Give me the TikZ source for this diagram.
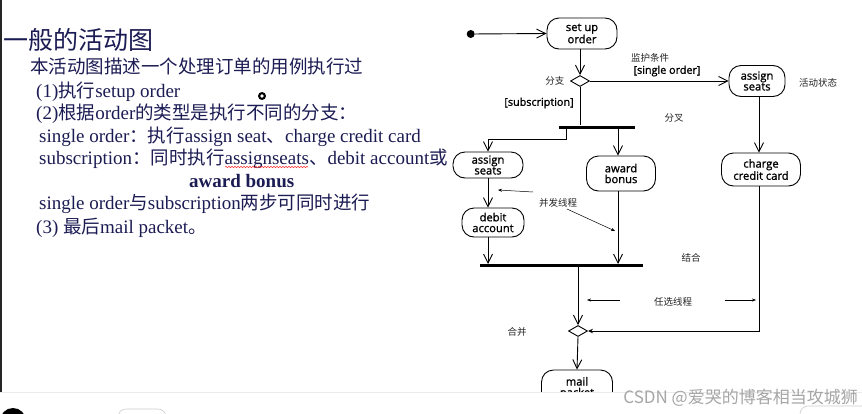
\documentclass[tikz,border=0pt]{standalone}
\usepackage{fontspec}
\setmainfont{Liberation Serif}
\newfontfamily\cjk{Noto Sans CJK SC}
\newfontfamily\diagfont[FakeBold=1.2]{Open Sans}
\usetikzlibrary{arrows.meta,shapes.geometric,decorations.pathmorphing}
\definecolor{navy}{RGB}{28,28,84}
\begin{document}
\begin{tikzpicture}[x=1pt,y=-1pt,
  act/.style={draw,line width=0.9pt,rounded corners=12pt,align=center,inner sep=0pt,
    font=\diagfont\fontsize{11.2}{10.8}\selectfont},
  barnode/.style={fill=black,inner sep=0pt,minimum height=3pt},
  dec/.style={draw,line width=0.9pt,diamond,aspect=1.8,minimum width=19pt,minimum height=11pt,inner sep=0pt},
  flow/.style={line width=0.9pt,-{Straight Barb[length=9pt,width=9pt]}},
  plain/.style={line width=0.9pt},
  lbl/.style={font=\cjk\fontsize{9.5}{9.5}\selectfont,text=black!85},
  note/.style={line width=0.5pt,-{Stealth[length=4pt,width=3pt]}},
  body/.style={anchor=base west,inner sep=0pt,text=navy,font=\fontsize{19}{22}\selectfont},
]
\useasboundingbox (0,0) rectangle (862,413);
\fill[white] (0,0) rectangle (862,413);
% left border
\draw[line width=1.2pt,black!85] (1,0) -- (1,392);

% ---------- left text ----------
\node[body,font=\cjk\fontsize{25}{25}\selectfont] (title) at (3,49) {一般的活动图};
\node[body] (l1) at (30,73) {\cjk\fontsize{18.5}{22}\selectfont 本活动图描述一个处理订单的用例执行过};
\node[body] (l2) at (36,97) {(1){\cjk\fontsize{18.5}{22}\selectfont 执行}setup order};
\node[body] (l3) at (36,119) {(2){\cjk\fontsize{18.5}{22}\selectfont 根据}order{\cjk\fontsize{18.5}{22}\selectfont 的类型是执行不同的分支：}};
\node[body] (l4) at (39,142) {single order{\cjk\fontsize{18.5}{22}\selectfont ：执行}assign seat{\cjk\fontsize{18.5}{22}\selectfont 、}charge credit card};
\node[body] (l5) at (39,164) {subscription{\cjk\fontsize{18.5}{22}\selectfont ：同时执行}assignseats{\cjk\fontsize{18.5}{22}\selectfont 、}debit account{\cjk\fontsize{18.5}{22}\selectfont 或}};
\node[body] (l6) at (189,187) {\bfseries award bonus};
\node[body] (l7) at (39,209) {single order{\cjk\fontsize{18.5}{22}\selectfont 与}subscription{\cjk\fontsize{18.5}{22}\selectfont 两步可同时进行}};
\node[body] (l8) at (36,233) {(3) {\cjk\fontsize{18.5}{22}\selectfont 最后}mail packet{\cjk\fontsize{18.5}{22}\selectfont 。}};
% spell-check underline
\draw[red!80,line width=0.5pt,decorate,decoration={snake,amplitude=0.8pt,segment length=3pt}] (225,167) -- (308,167);
% cursor
\fill[black] (262,96) circle (4);
\fill[white] (262,96) circle (1.8);

% ---------- diagram ----------
\node[circle,fill=black,minimum size=8pt,inner sep=0pt] (start) at (470.7,34) {};
\node[act,minimum width=70pt,minimum height=31pt] (setup) at (582,33.5) {set up\\order};
\node[dec] (d1) at (580,81) {};
\node[act,minimum width=56pt,minimum height=31pt] (as1) at (757,81) {assign\\seats};
\node[barnode,minimum width=76pt] (fork) at (597,127) {};
\node[act,minimum width=70pt,minimum height=26pt] (as2) at (488,165) {assign\\seats};
\node[act,minimum width=69pt,minimum height=35pt] (award) at (621,173.5) {award\\bonus};
\node[act,minimum width=79pt,minimum height=33pt] (charge) at (761,169.5) {charge\\credit card};
\node[act,minimum width=62pt,minimum height=29pt] (debit) at (493,222.5) {debit\\account};
\node[barnode,minimum width=163pt] (join) at (561.5,265.7) {};
\node[dec] (d2) at (578,331) {};
\node[act,minimum width=71pt,minimum height=36pt] (mail) at (577,388) {mail\\packet};

\coordinate (f1) at (566,127);
\coordinate (f2) at (618,127);
\coordinate (rx) at (759,0);

\draw[flow] (start) -- (setup.west);
\draw[flow] (setup.south -| d1) -- (d1.north);
\draw[flow] (d1.east) -- (as1.west);
\draw[plain] (d1.south) -- (d1.south |- fork.north);
\draw[flow] (f1) -- ++(0,12) -| (as2.north);
\draw[flow] (f2) -- (f2 |- award.north);
\draw[flow] (as1.south -| rx) -- (charge.north -| rx);
\draw[flow] (as2.south) -- (as2.south |- debit.north);
\draw[flow] (debit.south -| as2) -- (join.north -| as2);
\draw[flow] (award.south -| f2) -- (join.north -| f2);
\draw[flow] (join.south -| d2) -- (d2.north);
\draw[line width=0.9pt,-{Stealth[length=5pt,width=4.5pt]}] (charge.south -| rx) |- (d2.east);
\draw[flow] (d2.south) -- (mail.north);

% labels
\node[lbl,anchor=east] (lfz) at (568,81) {分支};
\node[lbl] (ljh) at (650,58) {监护条件};
\node[font=\diagfont\fontsize{10.8}{10.5}\selectfont] (lso) at (667,71) {[single order]};
\node[lbl] (lhd) at (818,83) {活动状态};
\node[font=\diagfont\fontsize{10.8}{10.5}\selectfont] (lsub) at (539,103) {[subscription]};
\node[lbl] (lfc) at (674,118) {分叉};
\node[lbl] (lbf) at (558,203) {并发线程};
\node[lbl] (ljhe) at (691,258) {结合};
\node[lbl] (lrx) at (673,302) {任选线程};
\node[lbl] (lhb) at (517,332) {合并};

\coordinate (a1s) at (533,192);
\coordinate (a1e) at (498,190);
\coordinate (a2s) at (567,209);
\coordinate (a2e) at (615,231);
\coordinate (a3s) at (620,300);
\coordinate (a3e) at (587,300);
\coordinate (a4s) at (725,300);
\coordinate (a4e) at (756,300);
\draw[note] (a1s) -- (a1e);
\draw[note] (a2s) -- (a2e);
\draw[note] (a3s) -- (a3e);
\draw[note] (a4s) -- (a4e);

% ---------- bottom strip ----------
\fill[white] (0,392.5) rectangle (862,413);
\draw[black!8,line width=0.6pt] (0,392.5) -- (862,392.5);
\fill[black] (13,421) circle (13);
\draw[black!20,line width=0.6pt,rounded corners=8pt] (118,420) -- (118,409) -- (166,409) -- (166,420);
\draw[black!20,line width=0.6pt,rounded corners=8pt] (800,420) -- (800,406) -- (870,406);
\node[font=\cjk\fontsize{17}{17}\selectfont,text=black!35,anchor=east,inner sep=0pt] (wm) at (858,398) {CSDN @爱哭的博客相当攻城狮};
\end{tikzpicture}
\end{document}
